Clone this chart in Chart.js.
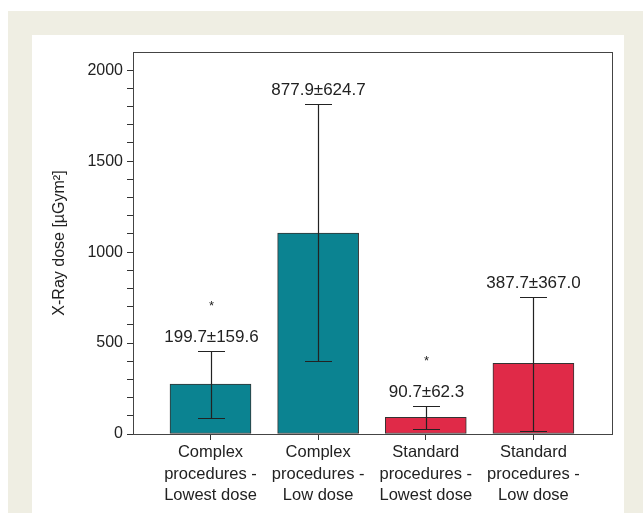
<!DOCTYPE html>
<html>
<head>
<meta charset="utf-8">
<script src="https://cdn.jsdelivr.net/npm/chart.js@4/dist/chart.umd.min.js"></script>
<style>
  html, body { margin: 0; padding: 0; background: #fff; }
  #wrap { width: 643px; height: 513px; position: relative; }
</style>
</head>
<body>
<div id="wrap"><canvas id="myChart" width="643" height="513"></canvas></div>
<script>
let categories = [
    ["Complex", "procedures -", "Lowest dose"],
    ["Complex", "procedures -", "Low dose"],
    ["Standard", "procedures -", "Lowest dose"],
    ["Standard", "procedures -", "Low dose"]
]
let barValues = [275, 1104, 91, 388]
let errLow = [90, 401, 27, 18]
let errHigh = [457, 1814, 152, 752]
let valueLabels = ["199.7±159.6", "877.9±624.7", "90.7±62.3", "387.7±367.0"]
let stars = ["*", "", "*", ""]
let barColors = ["#0b8391", "#0b8391", "#e02a48", "#e02a48"]
let yTicks = [0, 500, 1000, 1500, 2000]

const FONT = "'Liberation Sans', Arial, Helvetica, sans-serif"

// beige frame + white panel behind the chart
const backgroundPlugin = {
    id: 'panel',
    beforeDraw(chart) {
        const ctx = chart.ctx
        ctx.save()
        ctx.fillStyle = '#ffffff'
        ctx.fillRect(0, 0, chart.width, chart.height)
        ctx.fillStyle = '#efeee3'
        ctx.fillRect(8, 11, chart.width - 8, chart.height - 11)
        ctx.fillStyle = '#ffffff'
        ctx.fillRect(32, 35, 624 - 32, chart.height - 35)
        ctx.restore()
    }
}

// error bars, value labels, asterisks and the box around the plot
const errorPlugin = {
    id: 'errors',
    afterDatasetsDraw(chart) {
        const ctx = chart.ctx
        const xs = chart.scales.x
        const ys = chart.scales.y
        const area = chart.chartArea
        ctx.save()
        ctx.strokeStyle = '#222'
        ctx.lineWidth = 1.2
        barValues.forEach(function (v, i) {
            const x = Math.round(xs.getPixelForValue(i + 1)) + 0.5
            const lo = Math.round(ys.getPixelForValue(errLow[i])) + 0.5
            const hi = Math.round(ys.getPixelForValue(errHigh[i])) + 0.5
            ctx.beginPath()
            ctx.moveTo(x, lo)
            ctx.lineTo(x, hi)
            ctx.moveTo(x - 13.5, lo)
            ctx.lineTo(x + 13.5, lo)
            ctx.moveTo(x - 13.5, hi)
            ctx.lineTo(x + 13.5, hi)
            ctx.stroke()

            ctx.fillStyle = '#222'
            ctx.textAlign = 'center'
            ctx.textBaseline = 'middle'
            ctx.font = `17px ${FONT}`
            ctx.fillText(valueLabels[i], x, hi - 14)
            if (stars[i]) {
                ctx.font = `13px ${FONT}`
                ctx.fillText(stars[i], x, hi - 48 + 3)
            }
        })
        ctx.strokeStyle = '#444'
        ctx.lineWidth = 1
        ctx.strokeRect(Math.round(area.left) + 0.5, Math.round(area.top) + 0.5,
            Math.round(area.right - area.left), Math.round(area.bottom - area.top))
        ctx.restore()
    }
}

new Chart("myChart", {
    type: "bar",
    data: {
        datasets: [{
            data: barValues.map((v, i) => ({x: i + 1, y: v})),
            backgroundColor: barColors,
            borderColor: '#333',
            borderWidth: 1,
            borderSkipped: false,
            barThickness: 81
        }]
    },
    options: {
        responsive: false,
        animation: false,
        layout: {padding: {left: 46, top: 52, right: 31, bottom: 0}},
        plugins: {
            legend: {display: false},
            tooltip: {enabled: false}
        },
        scales: {
            x: {
                type: 'linear',
                offset: false,
                min: 0.28,
                max: 4.73,
                afterBuildTicks: function (scale) {
                    scale.ticks = [1, 2, 3, 4].map(v => ({value: v}))
                },
                afterFit: function (scale) {
                    scale.height = 513 - 434
                },
                grid: {offset: false, drawOnChartArea: false, color: '#333', tickLength: 6, tickWidth: 1},
                border: {display: true, color: '#444', width: 1},
                ticks: {
                    autoSkip: false,
                    maxRotation: 0,
                    padding: 2,
                    color: '#222',
                    font: {family: FONT, size: 16.5, lineHeight: 1.3},
                    callback: function (value) {
                        return categories[Math.round(value) - 1] || ''
                    }
                }
            },
            y: {
                min: 0,
                max: 2100,
                afterBuildTicks: function (scale) {
                    let t = []
                    for (let v = 0; v <= 2000; v += 100) t.push({value: v})
                    scale.ticks = t
                },
                afterFit: function (scale) {
                    scale.width = 133 - 46
                },
                grid: {drawOnChartArea: false, color: '#333', tickLength: 6, tickWidth: 1},
                border: {display: true, color: '#444', width: 1},
                ticks: {
                    autoSkip: false,
                    padding: 4,
                    color: '#222',
                    font: {family: FONT, size: 16},
                    callback: function (value) {
                        return yTicks.includes(value) ? String(value) : ''
                    }
                },
                title: {
                    display: true,
                    text: 'X-Ray dose [µGym²]',
                    color: '#222',
                    font: {family: FONT, size: 16},
                    padding: {top: 4, bottom: 0}
                }
            }
        }
    },
    plugins: [backgroundPlugin, errorPlugin]
});
</script>
</body>
</html>
